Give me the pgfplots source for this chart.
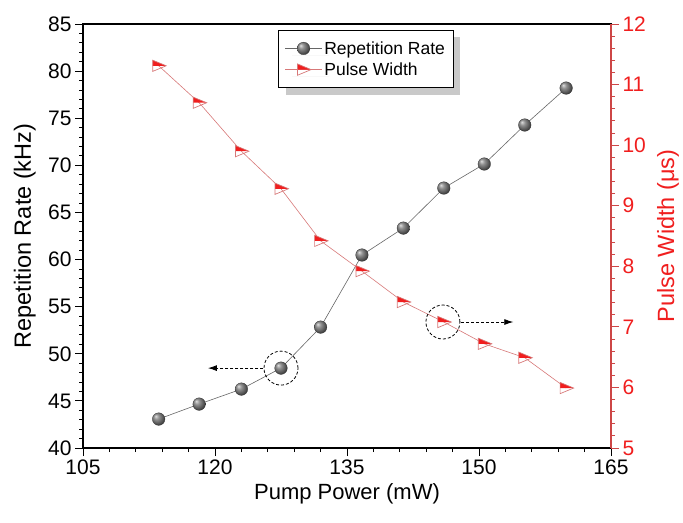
\documentclass[border=0pt]{standalone}
\usepackage{pgfplots}
\pgfplotsset{compat=1.18}
\usepackage{fontspec}
\setmainfont{Liberation Sans}
\usetikzlibrary{shadows,arrows.meta}

\definecolor{pwred}{RGB}{240,30,30}
\definecolor{pwline}{RGB}{215,120,120}
\definecolor{pwaxis}{RGB}{205,70,70}

% shaded sphere marker
\pgfdeclareradialshading{myball}{\pgfpoint{-12bp}{12bp}}{color(0bp)=(gray!25); color(10bp)=(gray!85); color(28bp)=(black!75); color(50bp)=(black!90)}
\pgfdeclareplotmark{ball}{%
  \begin{pgfscope}
    \pgfpathcircle{\pgfpointorigin}{\pgfplotmarksize}%
    \pgfshadepath{myball}{0}%
  \end{pgfscope}
  \pgfpathcircle{\pgfpointorigin}{\pgfplotmarksize}%
  \pgfusepath{stroke}%
}
% right-pointing triangle, upper half filled
\pgfdeclareplotmark{halftri}{%
  \pgfpathmoveto{\pgfpoint{-0.8\pgfplotmarksize}{0.75\pgfplotmarksize}}%
  \pgfpathlineto{\pgfpoint{-0.8\pgfplotmarksize}{0pt}}%
  \pgfpathlineto{\pgfpoint{\pgfplotmarksize}{0pt}}%
  \pgfpathclose
  \pgfusepath{fill}%
  \pgfpathmoveto{\pgfpoint{-0.8\pgfplotmarksize}{0.75\pgfplotmarksize}}%
  \pgfpathlineto{\pgfpoint{-0.8\pgfplotmarksize}{-0.75\pgfplotmarksize}}%
  \pgfpathlineto{\pgfpoint{\pgfplotmarksize}{0pt}}%
  \pgfpathclose
  \pgfusepath{stroke}%
}

\pgfplotsset{
  base/.style={
    scale only axis, width=528pt, height=424pt,
    xmin=105, xmax=165,
    tick align=outside,
    major tick length=8pt, minor tick length=4pt,
    tick label style={font=\fontsize{21}{24}\selectfont},
    label style={font=\fontsize{22}{26}\selectfont},
    /pgf/number format/assume math mode=true,
  }
}

\begin{document}
\begin{tikzpicture}
\begin{axis}[base, name=ax,
  ymin=40, ymax=85,
  xtick={105,120,...,165}, ytick={40,45,...,85},
  minor x tick num=4, minor y tick num=4,
  xtick pos=left, ytick pos=left,
  axis line style={line width=1.2pt},
  tick style={black, line width=0.9pt},
  xlabel={Pump Power (mW)},
  ylabel={Repetition Rate (kHz)},
  xlabel style={at={(axis description cs:0.5,-0.108)}, anchor=center},
  ylabel style={at={(axis description cs:-0.11,0.5)}, anchor=center,
    font=\fontsize{23.5}{26}\selectfont},
]
\addplot[black!60, line width=0.6pt, mark=ball, mark size=6.3pt,
  mark options={draw=black!80, line width=0.3pt}] coordinates {
  (113.6,43.07) (118.2,44.66) (123.0,46.25) (127.5,48.48) (132.0,52.83)
  (136.7,60.48) (141.4,63.34) (146.0,67.59) (150.6,70.14) (155.2,74.28)
  (159.9,78.20)
};
\draw[densely dashed, line width=0.8pt] (axis cs:127.5,48.48) circle[radius=17pt];
\draw[densely dashed, line width=0.8pt, -{Latex[length=9pt,width=6pt]}]
  (axis cs:125.5,48.48) -- (axis cs:119.2,48.48);
\end{axis}

\begin{axis}[base,
  ymin=5, ymax=12,
  ytick={5,6,...,12}, minor y tick num=4,
  axis x line=none, axis y line*=right,
  y axis line style={pwaxis, line width=1.2pt, -},
  ytick style={pwaxis, line width=0.9pt},
  yticklabel style={pwred},
  ylabel={Pulse Width (μs)},
  ylabel style={pwred, at={(axis description cs:1.108,0.5)}, anchor=center,
    font=\fontsize{23.5}{26}\selectfont},
  legend style={at={(0.37,0.986)}, anchor=north west, draw=black,
    line width=0.8pt, fill=white,
    drop shadow={shadow xshift=7pt, shadow yshift=-7pt, fill=gray!85, draw=none},
    font=\fontsize{17.5}{20}\selectfont, row sep=3pt,
    inner xsep=6pt, inner ysep=9pt},
  legend cell align=left,
  legend image code/.code={\draw[mark repeat=2, mark phase=2]
    plot coordinates {(0cm,0cm) (0.65cm,0cm) (1.3cm,0cm)};},
]
\addlegendimage{black!60, line width=0.6pt, mark=ball, mark size=6.3pt,
  mark options={draw=black!80, line width=0.3pt}}
\addlegendentry{Repetition Rate}
\addplot[pwline, line width=0.6pt, mark=halftri, mark size=7.5pt,
  mark options={draw=pwline, fill=pwred, line width=0.7pt}] coordinates {
  (113.6,11.31) (118.2,10.70) (123.0,9.90) (127.5,9.28) (132.0,8.42)
  (136.7,7.92) (141.4,7.41) (146.0,7.08) (150.6,6.72) (155.2,6.49)
  (159.9,5.99)
};
\addlegendentry{Pulse Width}
\draw[densely dashed, line width=0.8pt] (axis cs:145.9,7.08) circle[radius=17pt];
\draw[densely dashed, line width=0.8pt, -{Latex[length=9pt,width=6pt]}]
  (axis cs:148.0,7.08) -- (axis cs:153.9,7.08);
\end{axis}
\pgfresetboundingbox
\path ([xshift=-83pt,yshift=-74pt]ax.south west) rectangle ([xshift=72pt,yshift=24pt]ax.north east);
\end{tikzpicture}
\end{document}
